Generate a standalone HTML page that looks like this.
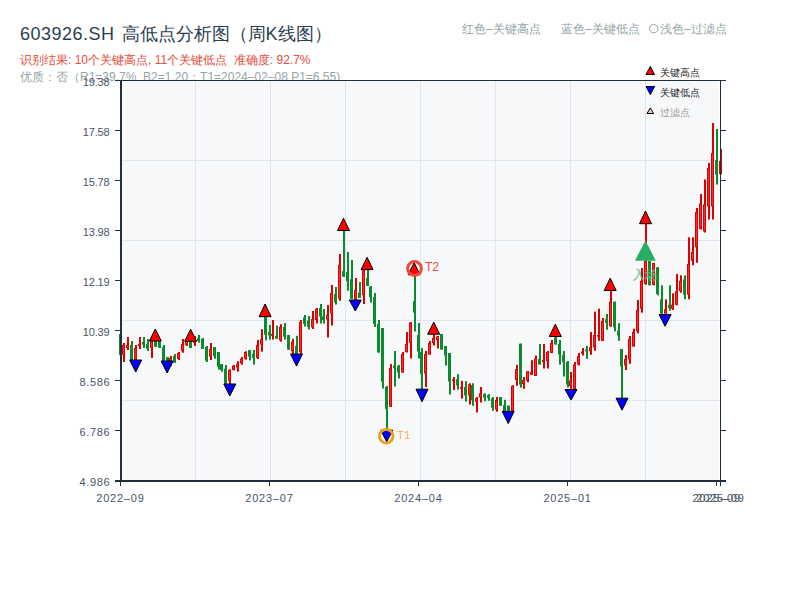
<!DOCTYPE html>
<html><head><meta charset="utf-8"><style>
html,body{margin:0;padding:0;background:#fff;width:800px;height:600px;overflow:hidden}
svg{position:absolute;left:0;top:0;font-family:"Liberation Sans",sans-serif}
</style></head><body>
<svg width="800" height="600" viewBox="0 0 800 600">
<text y="40" font-size="18" fill="#2c3e50"><tspan x="20" textLength="94" lengthAdjust="spacing">603926.SH</tspan><tspan x="122.3">高低点分析图（周</tspan><tspan x="265.5">K线图）</tspan></text>
<text x="20" y="63.5" font-size="12" fill="#e74c3c">识别结果: 10个关键高点, 11个关键低点&#160;&#160;准确度: 92.7%</text>
<text x="20" y="81" font-size="12" fill="#95a5a6">优质：否（R1=39.7%&#160;&#160;B2=1.20；T1=2024–02–08 P1=6.55)</text>
<text x="462" y="33" font-size="12" fill="#95a5a6">红色–关键高点</text>
<text x="561" y="33" font-size="12" fill="#95a5a6">蓝色–关键低点</text>
<circle cx="653.7" cy="28.6" r="4.2" fill="none" stroke="#95a5a6" stroke-width="1"/><text x="660" y="33" font-size="12" fill="#95a5a6">浅色–过滤点</text>
<rect x="121" y="81" width="598" height="399" fill="#f7f8fa"/>
<line x1="195.5" y1="81" x2="195.5" y2="480" stroke="#e1e4e8" stroke-width="1"/><line x1="270.5" y1="81" x2="270.5" y2="480" stroke="#e1e4e8" stroke-width="1"/><line x1="345.5" y1="81" x2="345.5" y2="480" stroke="#e1e4e8" stroke-width="1"/><line x1="420.5" y1="81" x2="420.5" y2="480" stroke="#e1e4e8" stroke-width="1"/><line x1="495.5" y1="81" x2="495.5" y2="480" stroke="#e1e4e8" stroke-width="1"/><line x1="570.5" y1="81" x2="570.5" y2="480" stroke="#e1e4e8" stroke-width="1"/><line x1="645.5" y1="81" x2="645.5" y2="480" stroke="#e1e4e8" stroke-width="1"/><line x1="121" y1="160.5" x2="720" y2="160.5" stroke="#e1e4e8" stroke-width="1"/><line x1="121" y1="240.5" x2="720" y2="240.5" stroke="#e1e4e8" stroke-width="1"/><line x1="121" y1="320.5" x2="720" y2="320.5" stroke="#e1e4e8" stroke-width="1"/><line x1="121" y1="400.5" x2="720" y2="400.5" stroke="#e1e4e8" stroke-width="1"/>

<rect x="120" y="334.0" width="2" height="21.0" fill="#0b8a2e"/><rect x="119" y="334.0" width="3" height="21.0" fill="#0b8a2e"/><rect x="123" y="343.0" width="2" height="19.0" fill="#dd0000"/><rect x="122" y="345.0" width="3" height="9.7" fill="#dd0000"/><rect x="123" y="346.0" width="1" height="7.7" fill="#ff2a2a"/><rect x="127" y="337.0" width="2" height="13.0" fill="#dd0000"/><rect x="126" y="345.0" width="3" height="3.0" fill="#dd0000"/><rect x="127" y="346.0" width="1" height="1.0" fill="#ff2a2a"/><rect x="131" y="341.0" width="2" height="24.0" fill="#0b8a2e"/><rect x="130" y="345.0" width="3" height="15.0" fill="#0b8a2e"/><rect x="135" y="345.0" width="2" height="15.0" fill="#dd0000"/><rect x="134" y="348.0" width="3" height="12.0" fill="#dd0000"/><rect x="135" y="349.0" width="1" height="10.0" fill="#ff2a2a"/><rect x="139" y="337.0" width="2" height="12.0" fill="#dd0000"/><rect x="138" y="344.0" width="3" height="2.0" fill="#dd0000"/><rect x="143" y="337.0" width="2" height="11.0" fill="#0b8a2e"/><rect x="142" y="342.0" width="3" height="2.7" fill="#0b8a2e"/><rect x="147" y="339.0" width="2" height="12.0" fill="#0b8a2e"/><rect x="146" y="344.0" width="3" height="4.7" fill="#0b8a2e"/><rect x="151" y="341.0" width="2" height="17.0" fill="#dd0000"/><rect x="150" y="341.0" width="3" height="6.7" fill="#dd0000"/><rect x="151" y="342.0" width="1" height="4.7" fill="#ff2a2a"/><rect x="155" y="341.0" width="2" height="6.0" fill="#0b8a2e"/><rect x="154" y="341.0" width="3" height="5.7" fill="#0b8a2e"/><rect x="159" y="341.0" width="2" height="7.0" fill="#0b8a2e"/><rect x="158" y="341.0" width="3" height="6.7" fill="#0b8a2e"/><rect x="163" y="345.0" width="2" height="16.0" fill="#0b8a2e"/><rect x="162" y="347.0" width="3" height="14.0" fill="#0b8a2e"/><rect x="167" y="357.0" width="2" height="4.0" fill="#0b8a2e"/><rect x="166" y="357.0" width="3" height="4.0" fill="#0b8a2e"/><rect x="170" y="356.0" width="2" height="10.0" fill="#dd0000"/><rect x="169" y="358.0" width="3" height="6.0" fill="#dd0000"/><rect x="170" y="359.0" width="1" height="4.0" fill="#ff2a2a"/><rect x="174" y="354.0" width="2" height="8.7" fill="#0b8a2e"/><rect x="173" y="356.0" width="3" height="6.7" fill="#0b8a2e"/><rect x="178" y="352.0" width="2" height="8.0" fill="#dd0000"/><rect x="177" y="353.0" width="3" height="5.7" fill="#dd0000"/><rect x="178" y="354.0" width="1" height="3.7" fill="#ff2a2a"/><rect x="182" y="339.0" width="2" height="13.7" fill="#dd0000"/><rect x="181" y="344.0" width="3" height="7.3" fill="#dd0000"/><rect x="182" y="345.0" width="1" height="5.3" fill="#ff2a2a"/><rect x="186" y="340.7" width="2" height="5.3" fill="#dd0000"/><rect x="185" y="341.0" width="3" height="4.0" fill="#dd0000"/><rect x="186" y="342.0" width="1" height="2.0" fill="#ff2a2a"/><rect x="190" y="341.0" width="2" height="7.0" fill="#0b8a2e"/><rect x="189" y="341.0" width="3" height="7.0" fill="#0b8a2e"/><rect x="194" y="336.0" width="2" height="10.0" fill="#dd0000"/><rect x="193" y="338.0" width="3" height="5.0" fill="#dd0000"/><rect x="194" y="339.0" width="1" height="3.0" fill="#ff2a2a"/><rect x="198" y="335.0" width="2" height="7.7" fill="#0b8a2e"/><rect x="197" y="338.0" width="3" height="3.0" fill="#0b8a2e"/><rect x="202" y="338.0" width="2" height="10.7" fill="#0b8a2e"/><rect x="201" y="339.0" width="3" height="9.7" fill="#0b8a2e"/><rect x="206" y="346.0" width="2" height="16.0" fill="#0b8a2e"/><rect x="205" y="347.0" width="3" height="13.7" fill="#0b8a2e"/><rect x="210" y="343.0" width="2" height="17.0" fill="#dd0000"/><rect x="209" y="349.0" width="3" height="7.7" fill="#dd0000"/><rect x="210" y="350.0" width="1" height="5.7" fill="#ff2a2a"/><rect x="214" y="347.0" width="2" height="11.7" fill="#0b8a2e"/><rect x="213" y="347.0" width="3" height="9.0" fill="#0b8a2e"/><rect x="218" y="352.0" width="2" height="17.6" fill="#0b8a2e"/><rect x="217" y="352.0" width="3" height="14.7" fill="#0b8a2e"/><rect x="221" y="364.2" width="2" height="7.5" fill="#0b8a2e"/><rect x="220" y="364.2" width="3" height="5.8" fill="#0b8a2e"/><rect x="225" y="365.0" width="2" height="19.0" fill="#0b8a2e"/><rect x="224" y="368.7" width="3" height="15.3" fill="#0b8a2e"/><rect x="229" y="369.2" width="2" height="14.8" fill="#dd0000"/><rect x="228" y="370.0" width="3" height="10.8" fill="#dd0000"/><rect x="229" y="371.0" width="1" height="8.8" fill="#ff2a2a"/><rect x="233" y="365.0" width="2" height="5.4" fill="#dd0000"/><rect x="232" y="365.8" width="3" height="4.2" fill="#dd0000"/><rect x="233" y="366.8" width="1" height="2.2" fill="#ff2a2a"/><rect x="237" y="361.2" width="2" height="10.5" fill="#dd0000"/><rect x="236" y="364.2" width="3" height="3.3" fill="#dd0000"/><rect x="237" y="365.2" width="1" height="1.3" fill="#ff2a2a"/><rect x="241" y="357.0" width="2" height="7.6" fill="#dd0000"/><rect x="240" y="358.7" width="3" height="4.6" fill="#dd0000"/><rect x="241" y="359.7" width="1" height="2.6" fill="#ff2a2a"/><rect x="245" y="351.2" width="2" height="8.4" fill="#dd0000"/><rect x="244" y="352.0" width="3" height="6.7" fill="#dd0000"/><rect x="245" y="353.0" width="1" height="4.7" fill="#ff2a2a"/><rect x="249" y="350.0" width="2" height="10.4" fill="#0b8a2e"/><rect x="248" y="350.0" width="3" height="6.7" fill="#0b8a2e"/><rect x="253" y="350.0" width="2" height="14.6" fill="#0b8a2e"/><rect x="252" y="353.7" width="3" height="4.3" fill="#0b8a2e"/><rect x="257" y="340.0" width="2" height="19.0" fill="#dd0000"/><rect x="256" y="345.0" width="3" height="13.0" fill="#dd0000"/><rect x="257" y="346.0" width="1" height="11.0" fill="#ff2a2a"/><rect x="261" y="329.2" width="2" height="22.5" fill="#dd0000"/><rect x="260" y="339.2" width="3" height="5.4" fill="#dd0000"/><rect x="261" y="340.2" width="1" height="3.4" fill="#ff2a2a"/><rect x="265" y="316.7" width="2" height="23.7" fill="#0b8a2e"/><rect x="264" y="316.7" width="3" height="17.9" fill="#0b8a2e"/><rect x="269" y="325.0" width="2" height="14.6" fill="#0b8a2e"/><rect x="268" y="332.0" width="3" height="3.4" fill="#0b8a2e"/><rect x="272" y="320.0" width="2" height="19.6" fill="#dd0000"/><rect x="271" y="334.0" width="3" height="1.8" fill="#dd0000"/><rect x="276" y="325.8" width="2" height="12.9" fill="#0b8a2e"/><rect x="275" y="335.8" width="3" height="2.9" fill="#0b8a2e"/><rect x="280" y="324.2" width="2" height="17.5" fill="#dd0000"/><rect x="279" y="326.7" width="3" height="13.7" fill="#dd0000"/><rect x="280" y="327.7" width="1" height="11.7" fill="#ff2a2a"/><rect x="284" y="323.0" width="2" height="16.6" fill="#0b8a2e"/><rect x="283" y="327.0" width="3" height="9.7" fill="#0b8a2e"/><rect x="288" y="335.0" width="2" height="14.6" fill="#0b8a2e"/><rect x="287" y="335.0" width="3" height="14.6" fill="#0b8a2e"/><rect x="292" y="338.8" width="2" height="15.2" fill="#dd0000"/><rect x="291" y="341.7" width="3" height="9.6" fill="#dd0000"/><rect x="292" y="342.7" width="1" height="7.6" fill="#ff2a2a"/><rect x="296" y="335.8" width="2" height="18.2" fill="#0b8a2e"/><rect x="295" y="345.8" width="3" height="8.2" fill="#0b8a2e"/><rect x="300" y="320.0" width="2" height="34.0" fill="#dd0000"/><rect x="299" y="322.0" width="3" height="30.0" fill="#dd0000"/><rect x="300" y="323.0" width="1" height="28.0" fill="#ff2a2a"/><rect x="304" y="315.0" width="2" height="11.5" fill="#0b8a2e"/><rect x="303" y="317.5" width="3" height="6.5" fill="#0b8a2e"/><rect x="308" y="316.0" width="2" height="13.5" fill="#0b8a2e"/><rect x="307" y="320.5" width="3" height="6.5" fill="#0b8a2e"/><rect x="312" y="311.0" width="2" height="18.0" fill="#dd0000"/><rect x="311" y="319.0" width="3" height="8.5" fill="#dd0000"/><rect x="312" y="320.0" width="1" height="6.5" fill="#ff2a2a"/><rect x="316" y="308.0" width="2" height="15.5" fill="#dd0000"/><rect x="315" y="309.0" width="3" height="11.0" fill="#dd0000"/><rect x="316" y="310.0" width="1" height="9.0" fill="#ff2a2a"/><rect x="320" y="304.0" width="2" height="19.5" fill="#0b8a2e"/><rect x="319" y="308.0" width="3" height="8.5" fill="#0b8a2e"/><rect x="323" y="309.0" width="2" height="14.5" fill="#0b8a2e"/><rect x="322" y="316.5" width="3" height="3.5" fill="#0b8a2e"/><rect x="327" y="305.0" width="2" height="32.5" fill="#dd0000"/><rect x="326" y="315.0" width="3" height="4.5" fill="#dd0000"/><rect x="327" y="316.0" width="1" height="2.5" fill="#ff2a2a"/><rect x="331" y="285.0" width="2" height="40.5" fill="#dd0000"/><rect x="330" y="293.0" width="3" height="20.5" fill="#dd0000"/><rect x="331" y="294.0" width="1" height="18.5" fill="#ff2a2a"/><rect x="335" y="287.0" width="2" height="17.5" fill="#0b8a2e"/><rect x="334" y="294.0" width="3" height="8.5" fill="#0b8a2e"/><rect x="339" y="254.0" width="2" height="46.7" fill="#dd0000"/><rect x="338" y="264.7" width="3" height="34.0" fill="#dd0000"/><rect x="339" y="265.7" width="1" height="32.0" fill="#ff2a2a"/><rect x="343" y="230.0" width="2" height="46.7" fill="#0b8a2e"/><rect x="342" y="271.3" width="3" height="5.4" fill="#0b8a2e"/><rect x="347" y="252.0" width="2" height="38.7" fill="#0b8a2e"/><rect x="346" y="272.0" width="3" height="9.3" fill="#0b8a2e"/><rect x="351" y="260.0" width="2" height="38.7" fill="#0b8a2e"/><rect x="350" y="279.3" width="3" height="19.4" fill="#0b8a2e"/><rect x="355" y="278.0" width="2" height="22.0" fill="#dd0000"/><rect x="354" y="290.0" width="3" height="10.0" fill="#dd0000"/><rect x="355" y="291.0" width="1" height="8.0" fill="#ff2a2a"/><rect x="359" y="282.0" width="2" height="16.0" fill="#0b8a2e"/><rect x="358" y="292.7" width="3" height="5.3" fill="#0b8a2e"/><rect x="363" y="269.6" width="2" height="34.4" fill="#dd0000"/><rect x="362" y="270.0" width="3" height="25.3" fill="#dd0000"/><rect x="363" y="271.0" width="1" height="23.3" fill="#ff2a2a"/><rect x="367" y="269.6" width="2" height="16.4" fill="#0b8a2e"/><rect x="366" y="278.0" width="3" height="8.0" fill="#0b8a2e"/><rect x="370" y="286.0" width="2" height="16.5" fill="#0b8a2e"/><rect x="369" y="286.7" width="3" height="10.3" fill="#0b8a2e"/><rect x="374" y="293.0" width="2" height="34.0" fill="#0b8a2e"/><rect x="373" y="297.0" width="3" height="27.0" fill="#0b8a2e"/><rect x="378" y="320.0" width="2" height="32.5" fill="#0b8a2e"/><rect x="377" y="324.0" width="3" height="28.5" fill="#0b8a2e"/><rect x="382" y="328.0" width="2" height="60.5" fill="#0b8a2e"/><rect x="381" y="328.0" width="3" height="53.5" fill="#0b8a2e"/><rect x="386" y="386.0" width="2" height="45.5" fill="#0b8a2e"/><rect x="385" y="387.0" width="3" height="21.8" fill="#0b8a2e"/><rect x="390" y="364.0" width="2" height="42.8" fill="#dd0000"/><rect x="389" y="368.0" width="3" height="38.8" fill="#dd0000"/><rect x="390" y="369.0" width="1" height="36.8" fill="#ff2a2a"/><rect x="394" y="351.0" width="2" height="35.5" fill="#0b8a2e"/><rect x="393" y="365.5" width="3" height="2.5" fill="#0b8a2e"/><rect x="398" y="365.0" width="2" height="13.5" fill="#0b8a2e"/><rect x="397" y="366.0" width="3" height="6.5" fill="#0b8a2e"/><rect x="402" y="352.0" width="2" height="20.5" fill="#dd0000"/><rect x="401" y="354.0" width="3" height="18.5" fill="#dd0000"/><rect x="402" y="355.0" width="1" height="16.5" fill="#ff2a2a"/><rect x="406" y="332.0" width="2" height="20.5" fill="#dd0000"/><rect x="405" y="344.0" width="3" height="8.0" fill="#dd0000"/><rect x="406" y="345.0" width="1" height="6.0" fill="#ff2a2a"/><rect x="410" y="322.0" width="2" height="36.5" fill="#dd0000"/><rect x="409" y="322.5" width="3" height="20.5" fill="#dd0000"/><rect x="410" y="323.5" width="1" height="18.5" fill="#ff2a2a"/><rect x="414" y="274.7" width="2" height="56.8" fill="#0b8a2e"/><rect x="413" y="301.0" width="3" height="11.5" fill="#0b8a2e"/><rect x="418" y="323.0" width="2" height="35.5" fill="#0b8a2e"/><rect x="417" y="335.0" width="3" height="16.5" fill="#0b8a2e"/><rect x="421" y="348.0" width="2" height="41.0" fill="#0b8a2e"/><rect x="420" y="352.0" width="3" height="22.0" fill="#0b8a2e"/><rect x="425" y="351.0" width="2" height="36.0" fill="#dd0000"/><rect x="424" y="354.0" width="3" height="19.5" fill="#dd0000"/><rect x="425" y="355.0" width="1" height="17.5" fill="#ff2a2a"/><rect x="429" y="341.0" width="2" height="13.5" fill="#dd0000"/><rect x="428" y="343.0" width="3" height="11.5" fill="#dd0000"/><rect x="429" y="344.0" width="1" height="9.5" fill="#ff2a2a"/><rect x="433" y="334.2" width="2" height="11.3" fill="#dd0000"/><rect x="432" y="338.0" width="3" height="5.0" fill="#dd0000"/><rect x="433" y="339.0" width="1" height="3.0" fill="#ff2a2a"/><rect x="437" y="336.0" width="2" height="12.5" fill="#dd0000"/><rect x="436" y="336.5" width="3" height="3.5" fill="#dd0000"/><rect x="437" y="337.5" width="1" height="1.5" fill="#ff2a2a"/><rect x="441" y="334.0" width="2" height="15.5" fill="#0b8a2e"/><rect x="440" y="334.0" width="3" height="15.5" fill="#0b8a2e"/><rect x="445" y="346.0" width="2" height="19.5" fill="#0b8a2e"/><rect x="444" y="346.0" width="3" height="9.5" fill="#0b8a2e"/><rect x="449" y="353.0" width="2" height="41.6" fill="#0b8a2e"/><rect x="448" y="353.0" width="3" height="28.5" fill="#0b8a2e"/><rect x="453" y="377.0" width="2" height="13.0" fill="#dd0000"/><rect x="452" y="379.2" width="3" height="1.6" fill="#dd0000"/><rect x="457" y="374.2" width="2" height="15.4" fill="#0b8a2e"/><rect x="456" y="379.2" width="3" height="6.2" fill="#0b8a2e"/><rect x="461" y="380.8" width="2" height="17.9" fill="#dd0000"/><rect x="460" y="387.0" width="3" height="1.8" fill="#dd0000"/><rect x="465" y="381.2" width="2" height="20.4" fill="#0b8a2e"/><rect x="464" y="387.0" width="3" height="8.4" fill="#0b8a2e"/><rect x="469" y="383.3" width="2" height="21.3" fill="#dd0000"/><rect x="468" y="384.2" width="3" height="11.2" fill="#dd0000"/><rect x="469" y="385.2" width="1" height="9.2" fill="#ff2a2a"/><rect x="472" y="383.3" width="2" height="22.5" fill="#0b8a2e"/><rect x="471" y="385.0" width="3" height="15.4" fill="#0b8a2e"/><rect x="476" y="397.0" width="2" height="15.5" fill="#dd0000"/><rect x="475" y="398.3" width="3" height="3.4" fill="#dd0000"/><rect x="476" y="399.3" width="1" height="1.4" fill="#ff2a2a"/><rect x="480" y="387.0" width="2" height="15.5" fill="#dd0000"/><rect x="479" y="393.3" width="3" height="4.2" fill="#dd0000"/><rect x="480" y="394.3" width="1" height="2.2" fill="#ff2a2a"/><rect x="484" y="393.3" width="2" height="7.9" fill="#0b8a2e"/><rect x="483" y="394.2" width="3" height="3.3" fill="#0b8a2e"/><rect x="488" y="394.2" width="2" height="6.6" fill="#0b8a2e"/><rect x="487" y="395.0" width="3" height="2.9" fill="#0b8a2e"/><rect x="492" y="397.0" width="2" height="13.8" fill="#0b8a2e"/><rect x="491" y="398.3" width="3" height="9.2" fill="#0b8a2e"/><rect x="496" y="397.0" width="2" height="14.7" fill="#dd0000"/><rect x="495" y="400.0" width="3" height="9.6" fill="#dd0000"/><rect x="496" y="401.0" width="1" height="7.6" fill="#ff2a2a"/><rect x="500" y="397.0" width="2" height="8.7" fill="#0b8a2e"/><rect x="499" y="397.0" width="3" height="8.7" fill="#0b8a2e"/><rect x="504" y="399.8" width="2" height="11.2" fill="#0b8a2e"/><rect x="503" y="405.0" width="3" height="6.0" fill="#0b8a2e"/><rect x="508" y="405.7" width="2" height="5.3" fill="#0b8a2e"/><rect x="507" y="405.7" width="3" height="5.3" fill="#0b8a2e"/><rect x="512" y="385.3" width="2" height="25.7" fill="#dd0000"/><rect x="511" y="385.8" width="3" height="25.2" fill="#dd0000"/><rect x="512" y="386.8" width="1" height="23.2" fill="#ff2a2a"/><rect x="516" y="364.8" width="2" height="21.0" fill="#dd0000"/><rect x="515" y="369.0" width="3" height="11.0" fill="#dd0000"/><rect x="516" y="370.0" width="1" height="9.0" fill="#ff2a2a"/><rect x="520" y="343.7" width="2" height="43.9" fill="#0b8a2e"/><rect x="519" y="343.7" width="3" height="41.0" fill="#0b8a2e"/><rect x="523" y="377.0" width="2" height="11.8" fill="#dd0000"/><rect x="522" y="380.0" width="3" height="4.0" fill="#dd0000"/><rect x="523" y="381.0" width="1" height="2.0" fill="#ff2a2a"/><rect x="527" y="371.2" width="2" height="11.1" fill="#dd0000"/><rect x="526" y="371.2" width="3" height="9.4" fill="#dd0000"/><rect x="527" y="372.2" width="1" height="7.4" fill="#ff2a2a"/><rect x="531" y="360.2" width="2" height="14.6" fill="#dd0000"/><rect x="530" y="371.8" width="3" height="2.9" fill="#dd0000"/><rect x="531" y="372.8" width="1" height="0.9" fill="#ff2a2a"/><rect x="535" y="355.5" width="2" height="20.5" fill="#dd0000"/><rect x="534" y="358.4" width="3" height="17.6" fill="#dd0000"/><rect x="535" y="359.4" width="1" height="15.6" fill="#ff2a2a"/><rect x="539" y="344.0" width="2" height="20.5" fill="#0b8a2e"/><rect x="538" y="359.0" width="3" height="5.5" fill="#0b8a2e"/><rect x="543" y="344.0" width="2" height="24.5" fill="#dd0000"/><rect x="542" y="360.0" width="3" height="2.0" fill="#dd0000"/><rect x="547" y="351.0" width="2" height="17.5" fill="#dd0000"/><rect x="546" y="352.0" width="3" height="9.0" fill="#dd0000"/><rect x="547" y="353.0" width="1" height="7.0" fill="#ff2a2a"/><rect x="551" y="340.0" width="2" height="13.0" fill="#dd0000"/><rect x="550" y="343.0" width="3" height="10.0" fill="#dd0000"/><rect x="551" y="344.0" width="1" height="8.0" fill="#ff2a2a"/><rect x="555" y="336.5" width="2" height="8.0" fill="#0b8a2e"/><rect x="554" y="337.5" width="3" height="7.0" fill="#0b8a2e"/><rect x="559" y="340.0" width="2" height="24.5" fill="#0b8a2e"/><rect x="558" y="344.0" width="3" height="10.5" fill="#0b8a2e"/><rect x="563" y="351.0" width="2" height="25.5" fill="#0b8a2e"/><rect x="562" y="355.0" width="3" height="7.0" fill="#0b8a2e"/><rect x="567" y="361.0" width="2" height="26.5" fill="#0b8a2e"/><rect x="566" y="362.0" width="3" height="22.5" fill="#0b8a2e"/><rect x="570" y="372.0" width="2" height="17.5" fill="#dd0000"/><rect x="569" y="380.5" width="3" height="5.5" fill="#dd0000"/><rect x="570" y="381.5" width="1" height="3.5" fill="#ff2a2a"/><rect x="574" y="362.0" width="2" height="27.5" fill="#dd0000"/><rect x="573" y="364.5" width="3" height="24.5" fill="#dd0000"/><rect x="574" y="365.5" width="1" height="22.5" fill="#ff2a2a"/><rect x="578" y="353.0" width="2" height="12.5" fill="#dd0000"/><rect x="577" y="356.0" width="3" height="8.5" fill="#dd0000"/><rect x="578" y="357.0" width="1" height="6.5" fill="#ff2a2a"/><rect x="582" y="348.0" width="2" height="7.5" fill="#dd0000"/><rect x="581" y="351.5" width="3" height="2.0" fill="#dd0000"/><rect x="586" y="346.0" width="2" height="12.8" fill="#0b8a2e"/><rect x="585" y="349.5" width="3" height="1.8" fill="#0b8a2e"/><rect x="590" y="332.0" width="2" height="22.8" fill="#dd0000"/><rect x="589" y="347.2" width="3" height="4.1" fill="#dd0000"/><rect x="590" y="348.2" width="1" height="2.1" fill="#ff2a2a"/><rect x="594" y="311.6" width="2" height="39.1" fill="#dd0000"/><rect x="593" y="335.0" width="3" height="12.2" fill="#dd0000"/><rect x="594" y="336.0" width="1" height="10.2" fill="#ff2a2a"/><rect x="598" y="308.7" width="2" height="32.1" fill="#dd0000"/><rect x="597" y="335.0" width="3" height="1.7" fill="#dd0000"/><rect x="602" y="318.0" width="2" height="22.8" fill="#dd0000"/><rect x="601" y="321.0" width="3" height="19.8" fill="#dd0000"/><rect x="602" y="322.0" width="1" height="17.8" fill="#ff2a2a"/><rect x="606" y="314.0" width="2" height="15.7" fill="#0b8a2e"/><rect x="605" y="319.2" width="3" height="3.5" fill="#0b8a2e"/><rect x="610" y="290.5" width="2" height="36.2" fill="#dd0000"/><rect x="609" y="301.7" width="3" height="24.5" fill="#dd0000"/><rect x="610" y="302.7" width="1" height="22.5" fill="#ff2a2a"/><rect x="614" y="301.7" width="2" height="29.7" fill="#0b8a2e"/><rect x="613" y="301.7" width="3" height="25.6" fill="#0b8a2e"/><rect x="618" y="323.2" width="2" height="17.5" fill="#0b8a2e"/><rect x="617" y="330.8" width="3" height="4.7" fill="#0b8a2e"/><rect x="621" y="349.0" width="2" height="49.2" fill="#0b8a2e"/><rect x="620" y="349.0" width="3" height="17.5" fill="#0b8a2e"/><rect x="625" y="355.0" width="2" height="15.0" fill="#dd0000"/><rect x="624" y="359.0" width="3" height="6.5" fill="#dd0000"/><rect x="625" y="360.0" width="1" height="4.5" fill="#ff2a2a"/><rect x="629" y="336.0" width="2" height="27.8" fill="#dd0000"/><rect x="628" y="339.0" width="3" height="20.5" fill="#dd0000"/><rect x="629" y="340.0" width="1" height="18.5" fill="#ff2a2a"/><rect x="633" y="328.7" width="2" height="17.8" fill="#dd0000"/><rect x="632" y="332.0" width="3" height="14.5" fill="#dd0000"/><rect x="633" y="333.0" width="1" height="12.5" fill="#ff2a2a"/><rect x="637" y="300.0" width="2" height="33.3" fill="#dd0000"/><rect x="636" y="310.0" width="3" height="21.3" fill="#dd0000"/><rect x="637" y="311.0" width="1" height="19.3" fill="#ff2a2a"/><rect x="641" y="268.0" width="2" height="44.7" fill="#dd0000"/><rect x="640" y="280.7" width="3" height="28.0" fill="#dd0000"/><rect x="641" y="281.7" width="1" height="26.0" fill="#ff2a2a"/><rect x="645" y="224.0" width="2" height="60.7" fill="#dd0000"/><rect x="644" y="261.0" width="3" height="23.0" fill="#dd0000"/><rect x="645" y="262.0" width="1" height="21.0" fill="#ff2a2a"/><rect x="649" y="261.0" width="2" height="24.3" fill="#0b8a2e"/><rect x="648" y="261.0" width="3" height="24.3" fill="#0b8a2e"/><rect x="653" y="263.0" width="2" height="22.3" fill="#dd0000"/><rect x="652" y="263.0" width="3" height="22.0" fill="#dd0000"/><rect x="653" y="264.0" width="1" height="20.0" fill="#ff2a2a"/><rect x="657" y="267.3" width="2" height="28.0" fill="#0b8a2e"/><rect x="656" y="267.3" width="3" height="26.7" fill="#0b8a2e"/><rect x="661" y="285.3" width="2" height="28.4" fill="#0b8a2e"/><rect x="660" y="299.3" width="3" height="14.4" fill="#0b8a2e"/><rect x="665" y="299.3" width="2" height="14.4" fill="#dd0000"/><rect x="664" y="309.3" width="3" height="4.4" fill="#dd0000"/><rect x="665" y="310.3" width="1" height="2.4" fill="#ff2a2a"/><rect x="669" y="285.3" width="2" height="25.4" fill="#0b8a2e"/><rect x="668" y="304.7" width="3" height="3.3" fill="#0b8a2e"/><rect x="672" y="293.3" width="2" height="16.7" fill="#dd0000"/><rect x="671" y="304.7" width="3" height="4.0" fill="#dd0000"/><rect x="672" y="305.7" width="1" height="2.0" fill="#ff2a2a"/><rect x="676" y="274.0" width="2" height="31.3" fill="#dd0000"/><rect x="675" y="291.3" width="3" height="13.4" fill="#dd0000"/><rect x="676" y="292.3" width="1" height="11.4" fill="#ff2a2a"/><rect x="680" y="275.3" width="2" height="17.4" fill="#dd0000"/><rect x="679" y="280.7" width="3" height="10.6" fill="#dd0000"/><rect x="680" y="281.7" width="1" height="8.6" fill="#ff2a2a"/><rect x="684" y="275.3" width="2" height="24.0" fill="#0b8a2e"/><rect x="683" y="279.3" width="3" height="15.4" fill="#0b8a2e"/><rect x="688" y="237.3" width="2" height="62.0" fill="#dd0000"/><rect x="687" y="264.0" width="3" height="30.7" fill="#dd0000"/><rect x="688" y="265.0" width="1" height="28.7" fill="#ff2a2a"/><rect x="692" y="237.3" width="2" height="28.0" fill="#dd0000"/><rect x="691" y="252.0" width="3" height="8.7" fill="#dd0000"/><rect x="692" y="253.0" width="1" height="6.7" fill="#ff2a2a"/><rect x="696" y="208.0" width="2" height="54.7" fill="#dd0000"/><rect x="695" y="212.0" width="3" height="35.3" fill="#dd0000"/><rect x="696" y="213.0" width="1" height="33.3" fill="#ff2a2a"/><rect x="700" y="194.0" width="2" height="35.5" fill="#dd0000"/><rect x="699" y="203.5" width="3" height="25.5" fill="#dd0000"/><rect x="700" y="204.5" width="1" height="23.5" fill="#ff2a2a"/><rect x="704" y="179.5" width="2" height="53.0" fill="#dd0000"/><rect x="703" y="204.5" width="3" height="27.0" fill="#dd0000"/><rect x="704" y="205.5" width="1" height="25.0" fill="#ff2a2a"/><rect x="708" y="163.0" width="2" height="56.5" fill="#dd0000"/><rect x="707" y="168.0" width="3" height="38.5" fill="#dd0000"/><rect x="708" y="169.0" width="1" height="36.5" fill="#ff2a2a"/><rect x="712" y="123.0" width="2" height="96.5" fill="#dd0000"/><rect x="711" y="153.0" width="3" height="53.5" fill="#dd0000"/><rect x="712" y="154.0" width="1" height="51.5" fill="#ff2a2a"/><rect x="716" y="129.0" width="2" height="55.5" fill="#0b8a2e"/><rect x="715" y="160.0" width="3" height="14.5" fill="#0b8a2e"/><rect x="720" y="149.0" width="2" height="25.5" fill="#dd0000"/><rect x="719" y="161.0" width="3" height="13.0" fill="#dd0000"/><rect x="720" y="162.0" width="1" height="11.0" fill="#ff2a2a"/>
<polygon points="155.3,329.0 149.3,341.0 161.3,341.0" fill="#ff0000" stroke="#000" stroke-width="1"/><polygon points="190.6,329.3 184.6,341.3 196.6,341.3" fill="#ff0000" stroke="#000" stroke-width="1"/><polygon points="265.1,304.0 259.1,316.7 271.1,316.7" fill="#ff0000" stroke="#000" stroke-width="1"/><polygon points="343.5,218.3 337.5,230.5 349.5,230.5" fill="#ff0000" stroke="#000" stroke-width="1"/><polygon points="367.1,257.3 361.1,269.6 373.1,269.6" fill="#ff0000" stroke="#000" stroke-width="1"/><polygon points="414.1,262.7 408.1,274.7 420.1,274.7" fill="#ff0000" stroke="#000" stroke-width="1"/><polygon points="433.7,322.2 427.7,334.2 439.7,334.2" fill="#ff0000" stroke="#000" stroke-width="1"/><polygon points="555.3,324.2 549.3,336.5 561.3,336.5" fill="#ff0000" stroke="#000" stroke-width="1"/><polygon points="610.2,278.2 604.2,290.5 616.2,290.5" fill="#ff0000" stroke="#000" stroke-width="1"/><polygon points="645.5,211.0 639.5,223.7 651.5,223.7" fill="#ff0000" stroke="#000" stroke-width="1"/><polygon points="129.7,360.0 141.7,360.0 135.7,372.0" fill="#0000ff" stroke="#000" stroke-width="1"/><polygon points="161.1,361.0 173.1,361.0 167.1,373.0" fill="#0000ff" stroke="#000" stroke-width="1"/><polygon points="223.8,384.0 235.8,384.0 229.8,396.0" fill="#0000ff" stroke="#000" stroke-width="1"/><polygon points="290.5,354.0 302.5,354.0 296.5,366.0" fill="#0000ff" stroke="#000" stroke-width="1"/><polygon points="349.3,300.0 361.3,300.0 355.3,311.0" fill="#0000ff" stroke="#000" stroke-width="1"/><polygon points="380.7,430.2 392.7,430.2 386.7,441.8" fill="#0000ff" stroke="#000" stroke-width="1"/><polygon points="416.0,389.2 428.0,389.2 422.0,401.7" fill="#0000ff" stroke="#000" stroke-width="1"/><polygon points="502.2,411.3 514.2,411.3 508.2,423.6" fill="#0000ff" stroke="#000" stroke-width="1"/><polygon points="565.0,389.5 577.0,389.5 571.0,400.0" fill="#0000ff" stroke="#000" stroke-width="1"/><polygon points="616.0,398.2 628.0,398.2 622.0,410.2" fill="#0000ff" stroke="#000" stroke-width="1"/><polygon points="659.1,314.6 671.1,314.6 665.1,326.3" fill="#0000ff" stroke="#000" stroke-width="1"/>
<polygon points="645.4,240.5 635,260.7 655.8,260.7" fill="#27ae60"/>
<text x="633" y="278.5" font-size="11.5" fill="#5fc28a" stroke="#5fc28a" stroke-width="0.35" opacity="0.85">入场</text>
<circle cx="386.25" cy="436.25" r="6.8" fill="none" stroke="#f39c12" stroke-width="2.8"/>
<text x="397" y="439" font-size="11.5" fill="#f39c12" fill-opacity="0.75">T1</text>
<circle cx="414.5" cy="268.5" r="6.9" fill="none" stroke="#e74c3c" stroke-width="3"/>
<text x="425" y="271" font-size="12" fill="#e74c3c">T2</text>
<line x1="115" y1="80.5" x2="121" y2="80.5" stroke="#1f2f40" stroke-width="1"/><line x1="720" y1="80.5" x2="726" y2="80.5" stroke="#1f2f40" stroke-width="1"/><line x1="115" y1="130.5" x2="121" y2="130.5" stroke="#1f2f40" stroke-width="1"/><line x1="720" y1="130.5" x2="726" y2="130.5" stroke="#1f2f40" stroke-width="1"/><line x1="115" y1="180.5" x2="121" y2="180.5" stroke="#1f2f40" stroke-width="1"/><line x1="720" y1="180.5" x2="726" y2="180.5" stroke="#1f2f40" stroke-width="1"/><line x1="115" y1="230.5" x2="121" y2="230.5" stroke="#1f2f40" stroke-width="1"/><line x1="720" y1="230.5" x2="726" y2="230.5" stroke="#1f2f40" stroke-width="1"/><line x1="115" y1="280.5" x2="121" y2="280.5" stroke="#1f2f40" stroke-width="1"/><line x1="720" y1="280.5" x2="726" y2="280.5" stroke="#1f2f40" stroke-width="1"/><line x1="115" y1="330.5" x2="121" y2="330.5" stroke="#1f2f40" stroke-width="1"/><line x1="720" y1="330.5" x2="726" y2="330.5" stroke="#1f2f40" stroke-width="1"/><line x1="115" y1="380.5" x2="121" y2="380.5" stroke="#1f2f40" stroke-width="1"/><line x1="720" y1="380.5" x2="726" y2="380.5" stroke="#1f2f40" stroke-width="1"/><line x1="115" y1="430.5" x2="121" y2="430.5" stroke="#1f2f40" stroke-width="1"/><line x1="720" y1="430.5" x2="726" y2="430.5" stroke="#1f2f40" stroke-width="1"/><line x1="115" y1="480.5" x2="121" y2="480.5" stroke="#1f2f40" stroke-width="1"/><line x1="720" y1="480.5" x2="726" y2="480.5" stroke="#1f2f40" stroke-width="1"/><line x1="120.5" y1="481" x2="120.5" y2="486" stroke="#1f2f40" stroke-width="1"/><line x1="269.5" y1="481" x2="269.5" y2="486" stroke="#1f2f40" stroke-width="1"/><line x1="418.5" y1="481" x2="418.5" y2="486" stroke="#1f2f40" stroke-width="1"/><line x1="567.5" y1="481" x2="567.5" y2="486" stroke="#1f2f40" stroke-width="1"/><line x1="716.5" y1="481" x2="716.5" y2="486" stroke="#1f2f40" stroke-width="1"/><line x1="720.5" y1="481" x2="720.5" y2="486" stroke="#1f2f40" stroke-width="1"/><line x1="115" y1="80.5" x2="726" y2="80.5" stroke="#1f2f40" stroke-width="1"/><line x1="720.5" y1="80" x2="720.5" y2="481" stroke="#1f2f40" stroke-width="1"/><line x1="121" y1="80" x2="121" y2="482" stroke="#1f2f40" stroke-width="2"/><line x1="115" y1="481" x2="726" y2="481" stroke="#1f2f40" stroke-width="2"/>
<g font-size="11" fill="#4a5568"><text x="82.8" y="85.5" textLength="26.8" lengthAdjust="spacing">19.38</text><text x="82.8" y="135.5" textLength="26.8" lengthAdjust="spacing">17.58</text><text x="82.8" y="185.5" textLength="26.8" lengthAdjust="spacing">15.78</text><text x="82.8" y="235.5" textLength="26.8" lengthAdjust="spacing">13.98</text><text x="82.8" y="285.5" textLength="26.8" lengthAdjust="spacing">12.19</text><text x="82.8" y="335.5" textLength="26.8" lengthAdjust="spacing">10.39</text><text x="79.4" y="385.5" textLength="30.2" lengthAdjust="spacing">8.586</text><text x="79.4" y="435.5" textLength="30.2" lengthAdjust="spacing">6.786</text><text x="79.4" y="485.5" textLength="30.2" lengthAdjust="spacing">4.986</text><text x="96.3" y="502" textLength="47.5" lengthAdjust="spacing">2022–09</text><text x="245.3" y="502" textLength="47.5" lengthAdjust="spacing">2023–07</text><text x="394.3" y="502" textLength="47.5" lengthAdjust="spacing">2024–04</text><text x="543.4" y="502" textLength="47.5" lengthAdjust="spacing">2025–01</text><text x="692.4" y="502" textLength="47.5" lengthAdjust="spacing">2025–09</text><text x="696.3" y="502" textLength="47.5" lengthAdjust="spacing">2025–09</text></g>
<polygon points="650.3,66.5 646,74.5 654.6,74.5" fill="#ff0000" stroke="#000" stroke-width="1"/>
<text x="660" y="76" font-size="10" fill="#222">关键高点</text>
<polygon points="646,86.5 654.6,86.5 650.3,94.5" fill="#0000ff" stroke="#000" stroke-width="1"/>
<text x="660" y="96" font-size="10" fill="#222">关键低点</text>
<polygon points="650.3,108 647,113.5 653.6,113.5" fill="#f5c6c0" stroke="#000" stroke-width="1"/>
<text x="660" y="116" font-size="10" fill="#999">过滤点</text>
</svg>
</body></html>
